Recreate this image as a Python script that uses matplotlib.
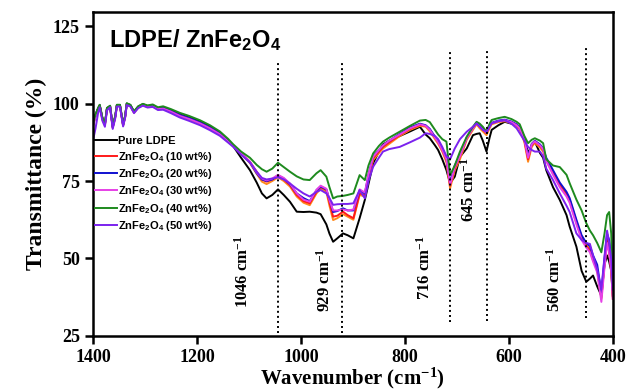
import matplotlib
matplotlib.use('Agg')
import matplotlib.pyplot as plt
import numpy as np

# ------------------------------- data ---------------
wavenumber = [1400, 1395, 1390, 1387, 1382, 1377, 1373, 1367, 1362, 1357,
              1354, 1348, 1342, 1338, 1335, 1328, 1321, 1313, 1304, 1295,
              1285, 1275, 1265, 1250, 1233, 1215, 1194, 1175, 1156, 1140,
              1130, 1115, 1098, 1085, 1075, 1066, 1055, 1044, 1033, 1021,
              1008, 995, 983, 970, 962, 951, 945, 938, 930, 919,
              910, 899, 887, 877, 870, 861, 850, 842, 830, 810,
              790, 771, 760, 752, 742, 736, 728, 720, 713, 704,
              694, 681, 669, 662, 656, 650, 643, 637, 633, 620,
              608, 595, 585, 579, 570, 563, 556, 550, 540, 534,
              528, 515, 502, 489, 483, 470, 460, 451, 444, 438,
              430, 422, 416, 411, 407, 403, 400]

pure_ldpe = [94.5, 96.5, 98.5, 99.5, 95.5, 93.5, 98.5, 99.2, 92.5, 96,
             99.5, 99.5, 93.2, 96, 100, 99.5, 97.3, 99, 99.8, 99.2,
             99.5, 98.5, 98.8, 97.8, 96.5, 95.5, 94.2, 92.6, 90.6, 88.2,
             86.2, 82.5, 78.5, 74.5, 71, 69.4, 70.5, 72.3, 70.5, 68.3,
             65.1, 65, 65.1, 64.8, 64.3, 61, 58, 55.4, 56.5, 58.1,
             57.5, 56.5, 63, 68.9, 74, 80.7, 84.5, 86.8, 88, 89.5,
             91, 92.5, 90, 88.8, 86.5, 85, 82, 78.5, 74.3, 76.4,
             82.8, 85.5, 89.8, 90.2, 90.4, 88, 84.5, 89, 91.5, 93,
             94.1, 93.5, 93, 92.5, 89, 83.9, 86.5, 87.7, 84, 82.5,
             78.5, 73, 68.9, 64, 60.3, 53.8, 46, 42.5, 43.5, 44.5,
             41, 38, 48, 51, 49, 46, 38]

wt10 = [93, 96, 98.3, 99.3, 95.2, 93.2, 98.3, 99, 92.3, 95.8,
        99.3, 99.3, 93, 95.8, 99.8, 99.3, 97.2, 98.8, 99.6, 99,
        99.2, 98.3, 98.5, 97.5, 96.2, 95.2, 93.8, 92.2, 90.3, 88,
        86.5, 84, 81.2, 78, 75.5, 74.8, 75.5, 76.6, 75.5, 73.7,
        70.5, 68.5, 67.8, 71.5, 73, 72.1, 68, 63.5, 63.8, 65.1,
        64, 63, 71, 70.5, 76, 82.3, 84.5, 86, 87.5, 89.8,
        91.8, 93.1, 92.8, 91.5, 89, 87.5, 85, 81.8, 73.5, 79,
        82.8, 88.8, 92, 93.6, 92.5, 91.5, 90.4, 92.5, 93.6, 94.3,
        94.6, 94, 93, 92, 88, 82, 86.5, 87.7, 86.3, 85,
        82, 78, 74, 71, 69, 62, 57, 54, 52.7, 49.5,
        46.5, 37.5, 48, 56, 52, 46, 37]

wt10_orange = [93, 96, 98.2, 99.2, 95, 93, 98.2, 99, 92.2, 95.7,
               99.2, 99.2, 92.9, 95.7, 99.7, 99.2, 97, 98.7, 99.5, 98.9,
               99.1, 98.2, 98.4, 97.4, 96, 95, 93.5, 91.8, 90, 87.6,
               86.3, 83.8, 80.8, 77.3, 74.8, 74, 75, 76.2, 75, 73.2,
               70, 68, 67.2, 71, 72.5, 71.5, 67, 62.4, 63, 64.3,
               63.5, 62.5, 70.5, 70, 75.5, 81.8, 84, 85.5, 87, 89.5,
               91.5, 92.8, 92.5, 91, 88.5, 87, 84.5, 81, 72.6, 78.5,
               82, 88.3, 91.5, 93.3, 92, 91, 89.8, 92, 93.3, 94,
               94.3, 93.7, 92.7, 91.6, 87.5, 81.2, 86, 87.3, 85.8, 84.5,
               81.5, 77.5, 73.5, 70.5, 68.5, 61.5, 57, 54.5, 53, 50,
               46, 37, 49, 57, 53, 47, 38]

wt20 = [93, 96, 98.4, 99.4, 95.3, 93.3, 98.4, 99.1, 92.4, 95.9,
        99.4, 99.4, 93.1, 95.9, 99.9, 99.4, 97.3, 98.9, 99.7, 99.1,
        99.3, 98.4, 98.6, 97.6, 96.3, 95.3, 93.9, 92.3, 90.4, 88,
        86.5, 83.8, 81, 77.5, 75.5, 75, 75.5, 76.8, 75.8, 74,
        71, 69.5, 68.5, 72, 73.2, 72.3, 69, 65, 65.3, 66.2,
        65.5, 65.5, 72, 71, 77, 83, 85, 86.5, 88, 90.2,
        92.3, 93.5, 93, 91.8, 89.3, 88, 85.5, 82.5, 74.5, 80,
        83.5, 89, 92.3, 93.8, 92.8, 92, 90.8, 92.8, 93.8, 94.5,
        94.8, 94.2, 93.3, 92.3, 88.5, 83, 87, 88, 86.8, 85.5,
        82.5, 78.5, 74.5, 71.5, 69.5, 62.5, 57.5, 55, 54, 51,
        48, 39, 50, 58, 56, 50, 40]

wt30 = [92.5, 95.8, 98.2, 99.2, 95.1, 93.1, 98.2, 99, 92.2, 95.7,
        99.2, 99.2, 92.9, 95.7, 99.7, 99.2, 97.1, 98.7, 99.5, 98.9,
        99.1, 98.2, 98.4, 97.4, 96, 95, 93.6, 92, 90.1, 87.8,
        86.5, 84, 81.2, 77.8, 75.8, 75.2, 75.8, 77, 76, 74.2,
        71, 69, 68.3, 72.2, 73.5, 72.5, 68.8, 65.5, 65.5, 65.8,
        65.5, 65.8, 72.3, 71.3, 77, 82.8, 85, 86.5, 88, 90,
        92, 93.3, 92.8, 91.5, 89, 87.5, 85, 82, 73.8, 79.5,
        83, 88.8, 92, 93.6, 92.6, 91.7, 90.5, 92.6, 93.6, 94.3,
        94.6, 94, 93, 92, 88.2, 82.5, 86.8, 87.8, 86.5, 85.2,
        81.5, 77, 73, 70, 68, 61, 56, 53.5, 52, 49,
        45.5, 36, 47, 55, 52, 46, 37]

wt40 = [93.5, 96.5, 98.6, 99.6, 95.6, 93.6, 98.6, 99.3, 92.6, 96.1,
        99.6, 99.6, 93.3, 96.1, 100.1, 99.6, 97.5, 99.1, 99.9, 99.4,
        99.7, 98.8, 99.1, 98.2, 97, 96, 94.6, 93, 91, 88.6,
        86.8, 84.5, 82.5, 80.2, 78.8, 78, 79, 80.9, 79.5, 78,
        76.5, 75.5, 75.3, 77.5, 78.5, 76.4, 73, 69.4, 70, 70.2,
        70.5, 71, 76.9, 75.3, 80, 83.9, 86.3, 87.7, 89, 90.9,
        92.8, 94.5, 94.7, 94, 91.5, 90, 88.5, 87.7, 76.9, 80,
        84.5, 89.3, 92.5, 94.1, 93.5, 92.5, 90.9, 93.5, 94.7, 95.3,
        95.7, 95, 94.1, 93.3, 89.5, 87.2, 88.3, 88.8, 88, 87.2,
        82, 80, 79.5, 77, 74.3, 69, 65.5, 61.4, 59, 57.5,
        55, 52, 58, 64, 65, 58, 42]

wt50 = [88, 92, 97, 98.8, 94.5, 92.5, 97.8, 98.8, 91.8, 95.3,
        99, 99, 92.6, 95.5, 99.5, 99, 96.9, 98.5, 99.3, 98.7,
        98.9, 97.9, 98, 96.9, 95.5, 94.4, 93, 91.4, 89.6, 87.4,
        86, 83.5, 81, 78, 76, 75.5, 75.8, 76.2, 75.5, 74.2,
        72.5, 71, 70, 71.5, 72.1, 71, 69.5, 67.3, 67.5, 67.6,
        67.6, 67.8, 72.1, 69.4, 75, 79.6, 82.5, 84.5, 85.3, 86,
        87.5, 89, 90.4, 90.2, 89.5, 88.5, 86, 83, 82, 85.5,
        88.5, 90.9, 92.5, 93.6, 92.5, 91.5, 90.9, 92.5, 93.6, 94.3,
        94.6, 93.5, 92, 90.4, 88, 86, 85, 84.5, 84.5, 83,
        79, 75.3, 71, 67, 65, 58.1, 56, 55, 54.7, 51,
        46.5, 40, 50.5, 59, 55, 50, 40]

# marked bands: position of the dotted line, its lower and upper ends, label
band_x = [1044, 920, 713, 642, 452]
band_lo = [26, 26, 29.5, 29.8, 30.8]
band_hi = [113.7, 113.7, 117, 117.3, 118.5]
band_labels = ['1046 cm$^{-1}$', '929 cm$^{-1}$', '716 cm$^{-1}$',
               '645 cm$^{-1}$', '560 cm$^{-1}$']

# ------------------------------- plot --------------------------------------
plt.rcParams['font.family'] = 'Liberation Serif'
plt.rcParams['font.weight'] = 'bold'
plt.rcParams['axes.labelweight'] = 'bold'
plt.rcParams['mathtext.default'] = 'regular'

fig = plt.figure(figsize=(6.41, 3.9), dpi=100)
ax = fig.add_axes([0.145, 0.1385, 0.811, 0.8305])

ax.plot(wavenumber, pure_ldpe, color='black', lw=1.4, label='Pure LDPE')
ax.plot(wavenumber, wt10_orange, color='#ff8a1c', lw=1.4)
ax.plot(wavenumber, wt10, color='#ff1a1a', lw=1.4,
        label='ZnFe$_2$O$_4$ (10 wt%)')
ax.plot(wavenumber, wt20, color='#1010d0', lw=1.4,
        label='ZnFe$_2$O$_4$ (20 wt%)')
ax.plot(wavenumber, wt30, color='#e640e6', lw=1.4,
        label='ZnFe$_2$O$_4$ (30 wt%)')
ax.plot(wavenumber, wt40, color='#1e8a1e', lw=1.4,
        label='ZnFe$_2$O$_4$ (40 wt%)')
ax.plot(wavenumber, wt50, color='#7b22ee', lw=1.4,
        label='ZnFe$_2$O$_4$ (50 wt%)')

ax.vlines(band_x, band_lo, band_hi, colors='black', linestyles=(0, (1, 1.6)),
          lw=1.4)
label_pos = [(1111, 45.6), (954, 43), (761, 47), (677, 72), (512, 43)]
for (lx, ly), txt in zip(label_pos, band_labels):
    ax.text(lx, ly, txt, rotation=90, ha='center', va='center', fontsize=12,
            fontweight='bold')

ax.text(0.03, 0.955, 'LDPE/ ZnFe$_2$O$_4$', transform=ax.transAxes,
        family='Liberation Sans', fontweight='bold', fontsize=17,
        ha='left', va='top')

leg = ax.legend(loc='upper left', bbox_to_anchor=(-0.005, 0.63), frameon=False,
                prop={'family': 'Liberation Sans', 'weight': 'bold', 'size': 8},
                handlelength=2.0, handletextpad=0.1, labelspacing=0.3,
                borderaxespad=0)

ax.set_xlim(1400, 400)
ax.set_ylim(25, 129.5)
ax.set_xticks([1400, 1200, 1000, 800, 600, 400])
ax.set_yticks([25, 50, 75, 100, 125])
ax.tick_params(direction='out', length=6, width=1.8, labelsize=13,
               top=False, right=False)
for lab in ax.get_xticklabels() + ax.get_yticklabels():
    lab.set_fontweight('bold')
for s in ax.spines.values():
    s.set_linewidth(1.8)

ax.set_xlabel('Wavenumber (cm$^{-1}$)', fontsize=15, fontweight='bold',
              labelpad=0)
ax.set_ylabel('Transmittance (%)', fontsize=17, fontweight='bold', labelpad=4)

fig.savefig('out.png', dpi=100)
